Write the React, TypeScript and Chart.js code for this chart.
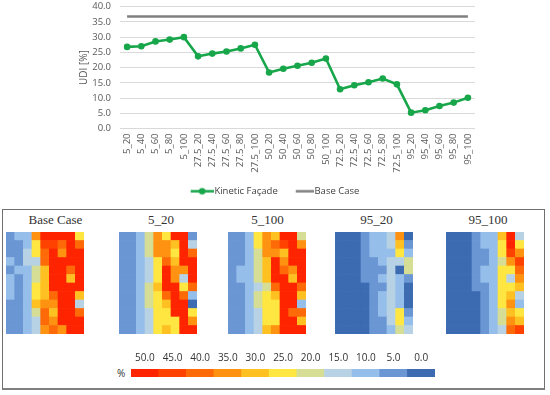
import React, { useEffect, useRef } from "react";
import { Chart, registerables } from "chart.js";

Chart.register(...registerables);

// ---------- Line chart data ----------
const categories = [
  "5_20", "5_40", "5_60", "5_80", "5_100",
  "27.5_20", "27.5_40", "27.5_60", "27.5_80", "27.5_100",
  "50_20", "50_40", "50_60", "50_80", "50_100",
  "72.5_20", "72.5_40", "72.5_60", "72.5_80", "72.5_100",
  "95_20", "95_40", "95_60", "95_80", "95_100",
];
const kineticFacade = [
  26.8, 27.0, 28.6, 29.2, 30.0,
  23.7, 24.6, 25.3, 26.3, 27.5,
  18.4, 19.6, 20.6, 21.6, 23.0,
  12.9, 14.2, 15.2, 16.4, 14.5,
  5.2, 6.0, 7.4, 8.5, 10.1,
];
const baseCase = [
  36.8, 36.8, 36.8, 36.8, 36.8,
  36.8, 36.8, 36.8, 36.8, 36.8,
  36.8, 36.8, 36.8, 36.8, 36.8,
  36.8, 36.8, 36.8, 36.8, 36.8,
  36.8, 36.8, 36.8, 36.8, 36.8,
];
const seriesNames = ["Kinetic Façade", "Base Case"];

// ---------- Colour bar ----------
const colorbarLabels = ["50.0", "45.0", "40.0", "35.0", "30.0", "25.0", "20.0", "15.0", "10.0", "5.0", "0.0"];
const colorbarValues = [50, 45, 40, 35, 30, 25, 20, 15, 10, 5, 0];
const colorbarColors = [
  "#FF2400", "#FF4200", "#FF6A08", "#FF9210", "#FFC022", "#FFE640",
  "#D6DE96", "#B7D2E4", "#96BEEA", "#6A97D3", "#3C6BB2",
];

// ---------- Heatmaps (12 rows top→bottom, 9 columns left→right, UDI %) ----------
const heatmapColumns = ["1", "2", "3", "4", "5", "6", "7", "8", "9"];
const heatmapTitles = ["Base Case", "5_20", "5_100", "95_20", "95_100"];

const gridBaseCase = [
  [5, 10, 10, 35, 50, 50, 50, 50, 25],
  [5, 5, 10, 25, 45, 45, 40, 50, 40],
  [5, 5, 15, 25, 40, 50, 35, 50, 50],
  [10, 5, 15, 15, 40, 50, 50, 50, 50],
  [5, 10, 10, 20, 30, 50, 50, 40, 50],
  [10, 5, 10, 20, 30, 50, 50, 30, 50],
  [10, 5, 10, 25, 30, 50, 50, 50, 50],
  [10, 5, 10, 25, 30, 40, 50, 50, 30],
  [5, 5, 10, 30, 35, 35, 50, 50, 15],
  [5, 5, 10, 20, 40, 30, 50, 50, 40],
  [5, 5, 10, 15, 40, 35, 50, 50, 50],
  [5, 5, 10, 15, 35, 40, 35, 50, 50],
];
const grid5_20 = [
  [5, 5, 10, 20, 35, 25, 50, 50, 5],
  [5, 5, 10, 20, 35, 35, 30, 50, 15],
  [5, 5, 10, 20, 35, 35, 25, 50, 40],
  [5, 5, 10, 15, 25, 40, 30, 50, 50],
  [5, 5, 10, 15, 25, 50, 35, 35, 50],
  [5, 5, 10, 15, 25, 50, 35, 15, 50],
  [5, 5, 10, 20, 30, 50, 50, 25, 40],
  [5, 5, 10, 20, 25, 40, 50, 40, 10],
  [5, 5, 10, 20, 25, 30, 50, 50, 0],
  [5, 5, 10, 15, 25, 25, 50, 50, 25],
  [5, 5, 10, 15, 25, 25, 25, 50, 35],
  [5, 5, 10, 15, 25, 30, 25, 50, 50],
];
const grid5_100 = [
  [5, 5, 10, 25, 35, 30, 50, 50, 20],
  [5, 5, 10, 25, 35, 40, 45, 50, 35],
  [5, 5, 10, 20, 35, 35, 30, 50, 50],
  [5, 5, 10, 20, 30, 50, 35, 50, 50],
  [5, 10, 10, 20, 30, 50, 40, 35, 50],
  [5, 10, 10, 20, 30, 50, 50, 30, 50],
  [5, 5, 10, 15, 20, 40, 50, 50, 40],
  [5, 5, 10, 20, 25, 30, 50, 50, 30],
  [5, 5, 10, 20, 25, 25, 50, 50, 10],
  [5, 5, 10, 15, 25, 25, 50, 40, 40],
  [5, 5, 10, 15, 25, 25, 50, 50, 30],
  [5, 5, 10, 15, 30, 35, 50, 50, 50],
];
const grid95_20 = [
  [0, 0, 0, 5, 10, 10, 15, 35, 0],
  [0, 0, 0, 5, 10, 10, 15, 30, 5],
  [0, 0, 0, 5, 10, 10, 10, 25, 10],
  [0, 0, 0, 5, 5, 10, 15, 15, 20],
  [0, 0, 0, 5, 5, 5, 15, 0, 20],
  [0, 0, 0, 5, 5, 10, 15, 10, 5],
  [0, 0, 0, 0, 5, 5, 15, 10, 0],
  [0, 0, 0, 0, 5, 10, 15, 10, 0],
  [0, 0, 0, 0, 5, 10, 15, 10, 0],
  [0, 0, 0, 0, 5, 10, 15, 25, 5],
  [0, 0, 0, 0, 5, 5, 15, 25, 10],
  [0, 0, 0, 0, 5, 5, 10, 20, 15],
];
const grid95_100 = [
  [0, 0, 0, 5, 10, 10, 30, 50, 15],
  [0, 0, 0, 5, 10, 10, 25, 50, 25],
  [0, 0, 0, 5, 5, 10, 25, 45, 35],
  [0, 0, 0, 5, 5, 10, 20, 35, 45],
  [0, 0, 0, 5, 10, 10, 25, 25, 40],
  [0, 0, 0, 5, 10, 10, 25, 15, 35],
  [0, 0, 0, 5, 5, 10, 25, 25, 30],
  [0, 0, 0, 0, 5, 10, 25, 30, 15],
  [0, 0, 0, 0, 5, 10, 25, 35, 10],
  [0, 0, 0, 0, 5, 10, 20, 30, 25],
  [0, 0, 0, 0, 5, 10, 20, 35, 30],
  [0, 0, 0, 0, 5, 10, 15, 40, 45],
];
const heatmapGrids = [gridBaseCase, grid5_20, grid5_100, grid95_20, grid95_100];

// ---------- styling ----------
const SANS = "'Open Sans', 'Liberation Sans', sans-serif";
const SERIF = "'Liberation Serif', serif";
const GREEN = "#17A64A";
const GRAY = "#7F7F7F";
const TICK = "#595959";

const heatmapBoxes = [
  { left: 6, title: 55.5 },
  { left: 119, title: 161 },
  { left: 228, title: 267.5 },
  { left: 335, title: 376.5 },
  { left: 446, title: 488 },
];

function colorFor(v: number): string {
  let best = 0;
  let bestD = Infinity;
  colorbarValues.forEach((cv, i) => {
    const d = Math.abs(cv - v);
    if (d < bestD) { bestD = d; best = i; }
  });
  return colorbarColors[best];
}

function makeIcon(kind: "marker" | "line"): HTMLCanvasElement {
  const c = document.createElement("canvas");
  c.width = 28;
  c.height = 9;
  const ctx = c.getContext("2d")!;
  if (kind === "marker") {
    ctx.strokeStyle = GREEN;
    ctx.lineWidth = 2.5;
    ctx.beginPath();
    ctx.moveTo(5, 4.5);
    ctx.lineTo(28, 4.5);
    ctx.stroke();
    ctx.fillStyle = GREEN;
    ctx.beginPath();
    ctx.arc(16.5, 4.5, 3.3, 0, Math.PI * 2);
    ctx.fill();
  } else {
    ctx.strokeStyle = GRAY;
    ctx.lineWidth = 2.5;
    ctx.beginPath();
    ctx.moveTo(10, 4.5);
    ctx.lineTo(28, 4.5);
    ctx.stroke();
  }
  return c;
}

function lineConfig(): any {
  const icons = [makeIcon("marker"), makeIcon("line")];
  return {
    type: "line",
    data: {
      labels: categories,
      datasets: [
        {
          label: seriesNames[0],
          data: kineticFacade,
          borderColor: GREEN,
          backgroundColor: GREEN,
          borderWidth: 2.6,
          pointRadius: 3.3,
          pointBorderWidth: 0,
          pointBackgroundColor: GREEN,
          tension: 0,
        },
        {
          label: seriesNames[1],
          data: baseCase,
          borderColor: GRAY,
          backgroundColor: GRAY,
          borderWidth: 2.6,
          pointRadius: 0,
          tension: 0,
        },
      ],
    },
    options: {
      animation: false,
      responsive: false,
      maintainAspectRatio: false,
      layout: { padding: { left: 74, right: 75, top: 0, bottom: 0 } },
      scales: {
        x: {
          offset: true,
          grid: { display: false, drawTicks: false },
          border: { display: false },
          ticks: {
            autoSkip: false,
            minRotation: 90,
            maxRotation: 90,
            padding: 5,
            color: TICK,
            font: { family: SANS, size: 9.5 },
          },
          afterFit: (s: any) => { s.height = 46; },
        },
        y: {
          min: 0,
          max: 40,
          grid: {
            color: "#D9D9D9",
            lineWidth: 1,
            drawTicks: true,
            tickLength: 8,
            tickColor: "rgba(0,0,0,0)",
          },
          border: { display: false },
          ticks: {
            stepSize: 5,
            padding: 1,
            color: TICK,
            font: { family: SANS, size: 9.5 },
            callback: (v: any) => Number(v).toFixed(1),
          },
          title: {
            display: true,
            text: "UDI [%]",
            color: TICK,
            font: { family: SANS, size: 10 },
            padding: { top: 4, bottom: 4 },
          },
          afterFit: (s: any) => { s.width = 46; },
        },
      },
      plugins: {
        tooltip: { enabled: false },
        legend: {
          position: "bottom",
          labels: {
            usePointStyle: true,
            pointStyleWidth: 20,
            padding: 12,
            color: "#404040",
            font: { family: SANS, size: 9.5 },
            generateLabels: (chart: any) =>
              chart.data.datasets.map((ds: any, i: number) => ({
                text: ds.label,
                pointStyle: icons[i],
                fillStyle: "transparent",
                strokeStyle: "transparent",
                lineWidth: 0,
                hidden: false,
                datasetIndex: i,
                fontColor: "#404040",
              })),
          },
        },
      },
    },
  };
}

function heatmapConfig(grid: number[][]): any {
  const bottomUp = grid.slice().reverse();
  return {
    type: "bar",
    data: {
      labels: heatmapColumns,
      datasets: bottomUp.map((row) => ({
        data: row.map(() => 1),
        backgroundColor: row.map(colorFor),
        borderWidth: 0,
        barPercentage: 1,
        categoryPercentage: 1,
      })),
    },
    options: {
      animation: false,
      responsive: false,
      maintainAspectRatio: false,
      layout: { padding: 0 },
      scales: {
        x: { stacked: true, display: false, offset: true },
        y: { stacked: true, display: false, min: 0, max: grid.length },
      },
      plugins: { legend: { display: false }, tooltip: { enabled: false } },
    },
  };
}

function colorbarConfig(): any {
  return {
    type: "bar",
    data: {
      labels: colorbarLabels,
      datasets: [
        {
          data: colorbarValues.map(() => 1),
          backgroundColor: colorbarColors,
          borderWidth: 0,
          barPercentage: 1,
          categoryPercentage: 1,
        },
      ],
    },
    options: {
      animation: false,
      responsive: false,
      maintainAspectRatio: false,
      layout: { padding: 0 },
      scales: {
        x: {
          position: "top",
          offset: true,
          grid: { display: false, drawTicks: false },
          border: { display: false },
          ticks: {
            autoSkip: false,
            maxRotation: 0,
            padding: 5,
            color: "#333333",
            font: { family: SANS, size: 10 },
          },
          afterFit: (s: any) => { s.height = 28; },
        },
        y: { display: false, min: 0, max: 1 },
      },
      plugins: { legend: { display: false }, tooltip: { enabled: false } },
    },
  };
}

function ChartCanvas(props: { make: () => any; left: number; top: number; width: number; height: number }) {
  const ref = useRef<HTMLCanvasElement>(null);
  useEffect(() => {
    const chart = new Chart(ref.current!, props.make());
    return () => chart.destroy();
  }, []);
  return (
    <canvas
      ref={ref}
      width={props.width}
      height={props.height}
      style={{ position: "absolute", left: props.left, top: props.top, width: props.width, height: props.height }}
    />
  );
}

export default function App() {
  return (
    <div style={{ position: "absolute", left: 0, top: 0, width: 550, height: 395, background: "#fff", overflow: "hidden" }}>
      <ChartCanvas make={lineConfig} left={0} top={0} width={550} height={206} />
      <div
        style={{
          position: "absolute",
          left: 2,
          top: 209,
          width: 541,
          height: 178,
          borderTop: "1.5px solid #707070",
          borderLeft: "1.5px solid #707070",
          borderRight: "1.5px solid #707070",
          borderBottom: "2px solid #808080",
        }}
      />
      {heatmapGrids.map((g, i) => (
        <React.Fragment key={i}>
          <div
            style={{
              position: "absolute",
              left: heatmapBoxes[i].title - 50,
              width: 100,
              top: 213,
              textAlign: "center",
              fontFamily: SERIF,
              fontWeight: 400,
              fontSize: 13,
              lineHeight: "14px",
              color: "#333333",
              whiteSpace: "nowrap",
            }}
          >
            {heatmapTitles[i]}
          </div>
          <ChartCanvas make={() => heatmapConfig(g)} left={heatmapBoxes[i].left} top={232} width={78} height={102} />
        </React.Fragment>
      ))}
      <ChartCanvas make={colorbarConfig} left={130} top={341} width={305} height={36} />
      <div
        style={{
          position: "absolute",
          left: 117,
          top: 366,
          fontFamily: SANS,
          fontSize: 10,
          lineHeight: "14px",
          color: "#333",
        }}
      >
        %
      </div>
    </div>
  );
}
